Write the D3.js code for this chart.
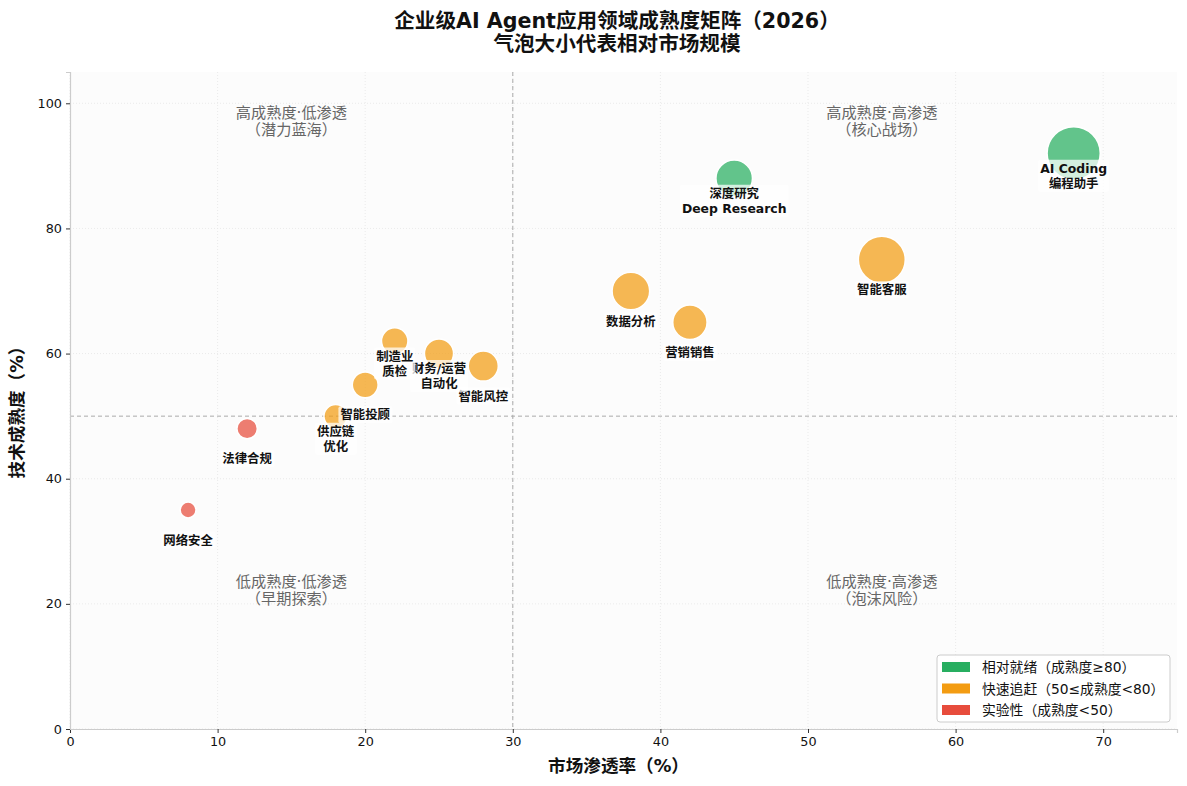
<!DOCTYPE html>
<html><head><meta charset="utf-8">
<script src="https://cdn.jsdelivr.net/npm/d3@7"></script>
<style>
body{margin:0;background:#fff;}
text{font-family:"DejaVu Sans","Noto Sans CJK SC",sans-serif;}
</style></head>
<body><svg id="c" width="1187" height="786"></svg>
<script>
// ---- data ----
const names = [["AI Coding","编程助手"],["深度研究","Deep Research"],["智能客服"],["数据分析"],["营销销售"],["智能风控"],["财务/运营","自动化"],["制造业","质检"],["智能投顾"],["供应链","优化"],["法律合规"],["网络安全"]];
const penetration = [68,45,55,38,42,28,25,22,20,18,12,8];
const maturity = [92,88,75,70,65,58,60,62,55,50,48,35];
const marketSize = [36,17,28,18,15,11.5,10.8,8.9,8.5,7,5.3,3.2];
const xTicks = [0,10,20,30,40,50,60,70];
const yTicks = [0,20,40,60,80,100];
const quadrants = [
  {x:15,y:97.2,lines:["高成熟度·低渗透","（潜力蓝海）"]},
  {x:55,y:97.2,lines:["高成熟度·高渗透","（核心战场）"]},
  {x:15,y:22.2,lines:["低成熟度·低渗透","（早期探索）"]},
  {x:55,y:22.2,lines:["低成熟度·高渗透","（泡沫风险）"]}
];
const legendLabels = ["相对就绪（成熟度≥80）","快速追赶（50≤成熟度<80）","实验性（成熟度<50）"];
const tierColors = ["#27ae60","#f39c12","#e74c3c"];
const titleLines = ["企业级AI Agent应用领域成熟度矩阵（2026）","气泡大小代表相对市场规模"];

const svg = d3.select("#c");
const L=70,R=1177,T=72,B=729;
const x = d3.scaleLinear().domain([0,75]).range([L,R]);
const y = d3.scaleLinear().domain([0,105]).range([B,T]);
const r = d3.scaleSqrt().domain([0,36]).range([0,26.6]);
const tier = m => m>=80?0:(m>=50?1:2);

svg.append("rect").attr("x",L).attr("y",T).attr("width",R-L).attr("height",B-T).attr("fill","#fcfcfc");
// grid
svg.append("g").selectAll("line").data(xTicks).join("line")
  .attr("x1",d=>x(d)).attr("x2",d=>x(d)).attr("y1",T).attr("y2",B)
  .attr("stroke","#e6e6e6").attr("stroke-dasharray","1,2").attr("stroke-width",0.8);
svg.append("g").selectAll("line").data(yTicks).join("line")
  .attr("x1",L).attr("x2",R).attr("y1",d=>y(d)).attr("y2",d=>y(d))
  .attr("stroke","#e6e6e6").attr("stroke-dasharray","1,2").attr("stroke-width",0.8);
// quadrant lines
svg.append("line").attr("x1",x(30)).attr("x2",x(30)).attr("y1",T).attr("y2",B)
  .attr("stroke","#aaa").attr("stroke-dasharray","4,3").attr("stroke-width",1);
svg.append("line").attr("x1",L).attr("x2",R).attr("y1",y(50)).attr("y2",y(50))
  .attr("stroke","#aaa").attr("stroke-dasharray","4,3").attr("stroke-width",1);
// quadrant labels
quadrants.forEach(q=>{
  const t = svg.append("text").attr("text-anchor","middle").attr("fill","#666").attr("font-size",15.2);
  q.lines.forEach((s,i)=>t.append("tspan").attr("x",x(q.x)).attr("y",y(q.y)+(i-0.5)*17.5+5.5).text(s));
});
// axes
const xa = svg.append("g").attr("transform",`translate(0,${B})`)
  .call(d3.axisBottom(x).tickValues(xTicks).tickSize(4).tickPadding(4));
const ya = svg.append("g").attr("transform",`translate(${L},0)`)
  .call(d3.axisLeft(y).tickValues(yTicks).tickSize(4).tickPadding(4));
[xa,ya].forEach(a=>{
  a.select(".domain").attr("stroke","#ccc").attr("stroke-width",1.2);
  a.selectAll(".tick line").attr("stroke","#333");
  a.selectAll(".tick text").attr("font-size",12.8).attr("fill","#111").style("font-family","'DejaVu Sans',sans-serif");
});
// bubbles
const idx = d3.range(names.length);
svg.append("g").selectAll("circle").data(idx).join("circle")
  .attr("cx",i=>x(penetration[i])).attr("cy",i=>y(maturity[i])).attr("r",i=>r(marketSize[i]))
  .attr("fill",i=>tierColors[tier(maturity[i])]).attr("fill-opacity",0.72)
  .attr("stroke","#fff").attr("stroke-width",1.5);
// labels
const lg = svg.append("g");
idx.forEach(i=>{
  const n = names[i].length;
  const cx = x(penetration[i]);
  const cyc = y(maturity[i]) + 30 - 7.5*(n-1);
  const g = lg.append("g");
  const t = g.append("text").attr("text-anchor","middle").attr("font-size",12.4).attr("font-weight","bold").attr("fill","#111");
  names[i].forEach((s,k)=>t.append("tspan").attr("x",cx).attr("y",cyc+(k-(n-1)/2)*15+4.5).text(s));
  const bb = t.node().getBBox();
  g.insert("rect","text").attr("x",bb.x-2).attr("y",bb.y-1).attr("width",bb.width+4).attr("height",bb.height+2)
    .attr("rx",2).attr("fill","#fff").attr("fill-opacity",0.72);
});
// titles
titleLines.forEach((s,i)=>svg.append("text").attr("x",617).attr("y",28+i*23).attr("text-anchor","middle")
  .attr("font-size",20.6).attr("font-weight","bold").attr("fill","#111").text(s));
svg.append("text").attr("x",618.5).attr("y",772).attr("text-anchor","middle").attr("font-size",17.6)
  .attr("font-weight","bold").attr("fill","#111").text("市场渗透率（%）");
svg.append("text").attr("transform","translate(23,408) rotate(-90)").attr("text-anchor","middle").attr("font-size",17.6)
  .attr("font-weight","bold").attr("fill","#111").text("技术成熟度（%）");
// legend
const lgd = svg.append("g").attr("transform","translate(937,655)");
lgd.append("rect").attr("width",233).attr("height",67).attr("rx",3).attr("fill","#fff").attr("fill-opacity",0.85)
  .attr("stroke","#ccc");
legendLabels.forEach((s,i)=>{
  lgd.append("rect").attr("x",5).attr("y",7+i*21.5).attr("width",28).attr("height",10).attr("fill",tierColors[i]);
  lgd.append("text").attr("x",45).attr("y",17+i*21.5).attr("font-size",13.8).attr("fill","#111").text(s);
});
</script></body></html>
